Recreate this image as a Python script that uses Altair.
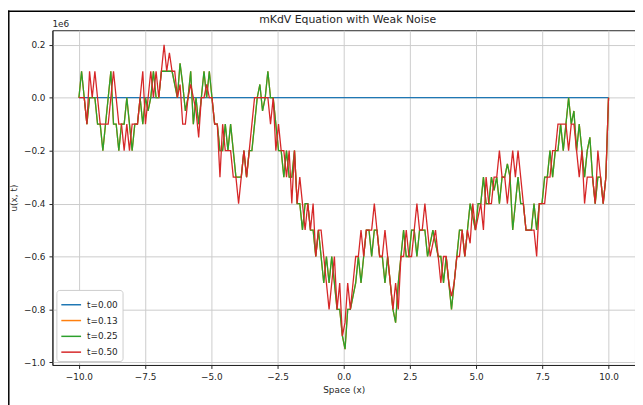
import altair as alt
import numpy as np
import pandas as pd

# spatial grid of the simulation
x_vals = np.linspace(-10, 10, 200)

series_names = ["t=0.00", "t=0.13", "t=0.25", "t=0.50"]
series_colors = ["#1f77b4", "#ff7f0e", "#2ca02c", "#d62728"]
chart_title = "mKdV Equation with Weak Noise"

# values in units of 1e6
u_t000 = [0.0] * 200

u_t025 = [
    0, 0.1, 0, -0.1, 0, 0, 0, -0.1, -0.1, -0.2,
    -0.1, 0, 0.1, -0.1, -0.1, -0.2, -0.1, -0.1, 0, -0.1,
    -0.2, -0.1, -0.1, 0, -0.1, 0, -0.05, 0, 0.1, 0,
    0, 0.1, 0.1, 0.1, 0.1, 0.1, 0.05, 0, 0.13, 0.05,
    -0.05, 0, 0.1, -0.1, 0, -0.1, 0, 0.1, 0, 0.1,
    0, -0.1, -0.1, -0.2, -0.2, -0.1, -0.2, -0.1, -0.2, -0.3,
    -0.3, -0.3, -0.2, -0.3, -0.2, -0.2, -0.1, 0, 0.05, -0.05,
    0, 0.1, 0, 0, -0.1, -0.2, -0.2, -0.3, -0.2, -0.3,
    -0.3, -0.2, -0.4, -0.4, -0.5, -0.4, -0.4, -0.5, -0.5, -0.6,
    -0.5, -0.6, -0.7, -0.6, -0.7, -0.6, -0.7, -0.8, -0.8, -0.9,
    -0.95, -0.8, -0.8, -0.75, -0.7, -0.6, -0.7, -0.6, -0.5, -0.5,
    -0.6, -0.5, -0.5, -0.6, -0.6, -0.7, -0.6, -0.7, -0.8, -0.85,
    -0.7, -0.6, -0.5, -0.6, -0.6, -0.5, -0.5, -0.6, -0.5, -0.5,
    -0.5, -0.6, -0.55, -0.5, -0.55, -0.6, -0.6, -0.7, -0.6, -0.7,
    -0.8, -0.7, -0.6, -0.5, -0.5, -0.6, -0.5, -0.4, -0.45, -0.5,
    -0.4, -0.4, -0.3, -0.4, -0.4, -0.3, -0.35, -0.3, -0.4, -0.3,
    -0.3, -0.25, -0.3, -0.5, -0.4, -0.3, -0.4, -0.4, -0.5, -0.5,
    -0.5, -0.4, -0.5, -0.4, -0.4, -0.3, -0.3, -0.2, -0.3, -0.2,
    -0.2, -0.1, -0.2, -0.1, 0, -0.1, -0.05, -0.2, -0.1, -0.2,
    -0.3, -0.2, -0.15, -0.3, -0.4, -0.3, -0.3, -0.4, -0.3, 0,
]

# t=0.13 is hidden under the later curves in the picture
u_t013 = list(u_t025)

u_t050 = [
    0, 0, 0, -0.1, 0.1, 0, 0.1, 0, -0.1, -0.1,
    -0.1, -0.1, 0, 0.1, 0, -0.1, -0.1, -0.2, -0.1, -0.2,
    -0.1, -0.1, -0.1, 0, 0.1, -0.1, 0, 0.1, 0, 0.1,
    0, 0.1, 0.2, 0.1, 0.17, 0.1, 0.1, 0, 0.05, -0.1,
    -0.1, 0, 0.05, 0, -0.05, -0.15, 0, 0, 0.05, 0,
    0, -0.1, -0.1, -0.3, -0.1, -0.2, -0.2, -0.2, -0.3, -0.3,
    -0.4, -0.3, -0.2, -0.3, -0.2, -0.1, 0, 0, 0, 0,
    0, 0, -0.1, 0, -0.2, -0.1, -0.2, -0.2, -0.3, -0.2,
    -0.4, -0.2, -0.4, -0.3, -0.4, -0.5, -0.4, -0.5, -0.4, -0.6,
    -0.5, -0.5, -0.6, -0.7, -0.8, -0.7, -0.6, -0.8, -0.7, -0.9,
    -0.85, -0.7, -0.8, -0.7, -0.6, -0.6, -0.5, -0.6, -0.5, -0.5,
    -0.5, -0.4, -0.5, -0.6, -0.6, -0.5, -0.6, -0.7, -0.8, -0.7,
    -0.8, -0.6, -0.6, -0.5, -0.6, -0.6, -0.5, -0.4, -0.5, -0.5,
    -0.4, -0.5, -0.6, -0.55, -0.5, -0.6, -0.7, -0.6, -0.6, -0.7,
    -0.75, -0.7, -0.6, -0.6, -0.5, -0.6, -0.5, -0.55, -0.4, -0.5,
    -0.45, -0.4, -0.5, -0.3, -0.4, -0.4, -0.3, -0.3, -0.2, -0.3,
    -0.3, -0.4, -0.3, -0.2, -0.3, -0.2, -0.3, -0.4, -0.5, -0.5,
    -0.5, -0.5, -0.6, -0.4, -0.4, -0.4, -0.3, -0.3, -0.2, -0.2,
    -0.1, -0.1, -0.1, -0.1, -0.2, -0.1, -0.1, -0.2, -0.3, -0.2,
    -0.4, -0.3, -0.3, -0.3, -0.4, -0.2, -0.3, -0.4, -0.3, 0,
]

x_ticks = [-10.0, -7.5, -5.0, -2.5, 0.0, 2.5, 5.0, 7.5, 10.0]
y_ticks = [-1.0, -0.8, -0.6, -0.4, -0.2, 0.0, 0.2]

all_series = [u_t000, u_t013, u_t025, u_t050]
df = pd.DataFrame({
    "x": np.tile(x_vals, len(series_names)),
    "u": [v for s in all_series for v in s],
    "series": [n for n in series_names for _ in range(len(x_vals))],
})

FONT = "DejaVu Sans"
TXT = "#262626"
GRID = "#cccccc"
SPINE = "#262626"

color = alt.Color(
    "series:N",
    scale=alt.Scale(domain=series_names, range=series_colors),
    legend=alt.Legend(
        title=None, orient="bottom-left", offset=4,
        symbolType="stroke", symbolSize=400, symbolStrokeWidth=1.5,
        labelFont=FONT, labelFontSize=9, labelColor=TXT, labelOffset=5,
        padding=4, rowPadding=-0.8, strokeColor="#cccccc", fillColor="white",
        cornerRadius=3,
    ),
)

x_enc = alt.X(
    "x:Q",
    scale=alt.Scale(domain=[-11, 11], nice=False, zero=False),
    axis=alt.Axis(
        values=x_ticks, format=".1f", title="Space (x)",
        titleFont=FONT, titleFontSize=9, titleFontWeight="normal", titleColor=TXT,
        titleY=25, titleBaseline="middle",
        labelFont=FONT, labelFontSize=9, labelColor=TXT, labelPadding=4,
        tickSize=3.5, tickColor=SPINE, domainColor=SPINE,
        gridColor=GRID, gridWidth=1,
    ),
)
y_enc = alt.Y(
    "u:Q",
    scale=alt.Scale(domain=[-1.010, 0.255], nice=False, zero=False),
    axis=alt.Axis(
        values=y_ticks, format=".1f", title="u(x, t)",
        titleFont=FONT, titleFontSize=9, titleFontWeight="normal", titleColor=TXT,
        titleAngle=270, titleX=-39, titleY=169.5, titleAlign="center",
        titleBaseline="middle",
        labelFont=FONT, labelFontSize=9, labelColor=TXT, labelPadding=4,
        tickSize=3.5, tickColor=SPINE, domainColor=SPINE,
        gridColor=GRID, gridWidth=1,
    ),
)

base = alt.Chart(df).encode(x=x_enc, y=y_enc, color=color)
line_layers = [
    base.transform_filter(alt.datum.series == n).mark_line(strokeWidth=1.3, clip=True)
    for n in series_names
]

one = alt.Data(values=[{"k": 1}])
title_text = alt.Chart(one).mark_text(
    align="center", baseline="alphabetic", font=FONT, fontSize=11, color=TXT
).encode(x=alt.value(299), y=alt.value(-7), text=alt.value(chart_title))

offset_text = alt.Chart(one).mark_text(
    align="left", baseline="alphabetic", font=FONT, fontSize=9, color=TXT
).encode(x=alt.value(0), y=alt.value(-3), text=alt.value("1e6"))

frame_left = alt.Chart(one).mark_rule(color="black", strokeWidth=1.5).encode(
    x=alt.value(-44.2), y=alt.value(-20), y2=alt.value(380)
)
frame_top = alt.Chart(one).mark_rule(color="black", strokeWidth=1.5).encode(
    x=alt.value(-45), x2=alt.value(600), y=alt.value(-19.2)
)

chart = alt.layer(
    *line_layers, title_text, offset_text, frame_left, frame_top
).properties(
    width=590,
    height=339,
    autosize=alt.AutoSizeParams(type="none"),
    padding={"left": 45, "top": 20, "right": 0, "bottom": 38},
).configure(font=FONT).configure_view(stroke=SPINE, strokeWidth=1)

chart.save("out.html", embed_options={"renderer": "svg", "actions": False})
